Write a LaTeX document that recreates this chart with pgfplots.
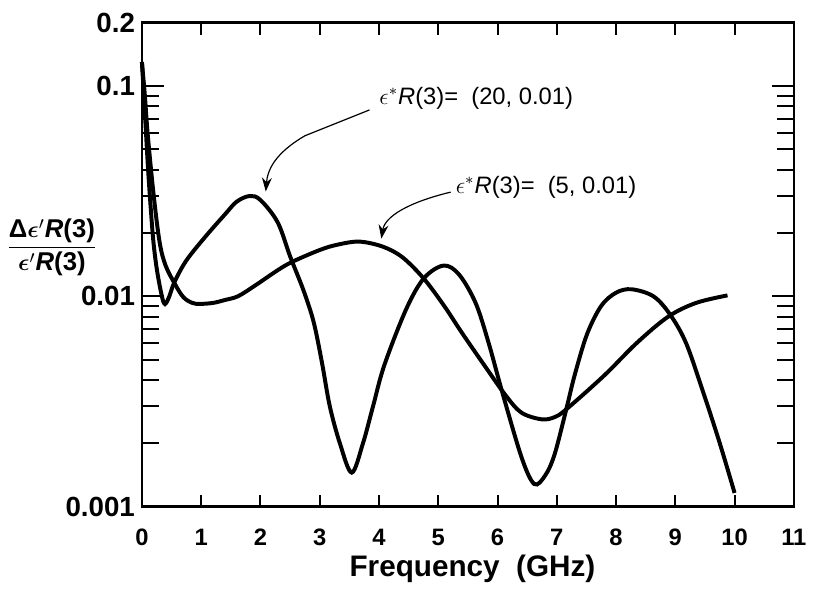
\documentclass[border=0pt]{standalone}
\usepackage{amsmath}
\usepackage{fontspec}
\setmainfont{Liberation Sans}
\usepackage{pgfplots}
\pgfplotsset{compat=1.18}
\usetikzlibrary{arrows.meta,calc}

% epsilon*_R(3) = (20, 0.01)
\pgfplotstableread{
x y
0 0.13
0.05 0.075
0.1 0.042
0.15 0.026
0.2 0.0175
0.27 0.0125
0.37 0.0093
0.45 0.0098
0.55 0.0117
0.75 0.0148
1.07 0.0192
1.4 0.0245
1.6 0.0282
1.82 0.0300
2.0 0.0287
2.29 0.0225
2.5 0.0155
2.73 0.0106
2.9 0.0075
3.04 0.0048
3.17 0.0030
3.34 0.0020
3.54 0.00145
3.73 0.0020
3.9 0.0030
4.09 0.0047
4.46 0.0087
4.76 0.0122
5.09 0.0140
5.35 0.0127
5.63 0.0093
5.85 0.0060
6.08 0.0035
6.41 0.0017
6.62 0.00128
6.8 0.00140
6.96 0.00176
7.16 0.0029
7.3 0.0042
7.51 0.0066
7.75 0.0090
8.0 0.0104
8.26 0.0108
8.63 0.0100
8.91 0.0082
9.18 0.0060
9.47 0.0035
9.75 0.0020
10.0 0.00116
}\twenty

% epsilon*_R(3) = (5, 0.01)
\pgfplotstableread{
x y
0 0.13
0.05 0.09
0.1 0.058
0.2 0.030
0.3 0.018
0.4 0.0140
0.56 0.0114
0.7 0.0099
0.85 0.0093
0.98 0.0092
1.2 0.0093
1.4 0.0096
1.62 0.0100
1.9 0.0112
2.29 0.0133
2.54 0.0146
3.0 0.0166
3.3 0.0176
3.67 0.0182
4.07 0.0172
4.4 0.0153
4.76 0.0121
5.1 0.0090
5.4 0.0067
5.8 0.0046
6.13 0.0034
6.4 0.0028
6.74 0.0026
6.96 0.00266
7.16 0.0029
7.8 0.0042
8.35 0.0060
8.88 0.0080
9.35 0.0093
9.88 0.0101
}\five

\begin{document}
\begin{tikzpicture}
\begin{axis}[
  name=ax,
  scale only axis,
  width=329.5pt, height=244.5pt,
  ymode=log,
  xmin=0, xmax=11, ymin=0.001, ymax=0.2,
  axis line style={line width=1.3pt},
  xtick={0,1,...,11},
  ytick={0.001,0.01,0.1,0.2},
  yticklabels={0.001,0.01,0.1,0.2},
  minor ytick={0.002,0.003,0.004,0.005,0.006,0.007,0.008,0.009,0.02,0.03,0.04,0.05,0.06,0.07,0.08,0.09},
  tick align=inside,
  ticks=both,
  major tick length=11pt,
  minor tick length=8.5pt,
  xtick style={/pgfplots/major tick length=6pt},
  tick style={line width=1pt, black},
  /pgf/number format/assume math mode=true,
  xticklabel style={font=\bfseries\fontsize{12}{14}\selectfont, yshift=-8pt},
  yticklabel style={font=\bfseries\fontsize{14}{16}\selectfont},
  xlabel={Frequency\ \ (GHz)},
  xlabel style={font=\bfseries\fontsize{15}{17}\selectfont, at={(axis description cs:0.507,0)}, anchor=center, yshift=-31.5pt},
  ylabel={\bfseries\fontsize{13}{15}\selectfont
    $\dfrac{\text{\bfseries Δ}\boldsymbol{\epsilon}'\text{\itshape\bfseries R}\text{\bfseries(3)}}{\boldsymbol{\epsilon}'\text{\itshape\bfseries R}\text{\bfseries(3)}}$},
  ylabel style={rotate=-90, anchor=center, at={(axis description cs:-0.138,0.536)}},
  clip=false,
]
\addplot[black, line width=2pt, smooth, tension=0.55] table {\twenty};
\addplot[black, line width=2pt, smooth, tension=0.55] table {\five};

\node[anchor=west, font=\fontsize{12}{14}\selectfont, inner sep=0pt] at (axis cs:4.0,0.0877)
  {$\epsilon^{*}$\textit{R}(3)= \ (20, 0.01)};
\node[anchor=west, font=\fontsize{12}{14}\selectfont, inner sep=0pt] at (axis cs:5.29,0.033)
  {$\epsilon^{*}$\textit{R}(3)= \ (5, 0.01)};
\draw[-{Stealth[length=7pt,width=5pt]}, line width=0.6pt]
  (axis cs:3.84,0.077) -- (axis cs:2.75,0.058) .. controls (axis cs:2.25,0.048) and (axis cs:2.12,0.04) .. (axis cs:2.09,0.0315);
\draw[-{Stealth[length=7pt,width=5pt]}, line width=0.6pt]
  (axis cs:5.21,0.0313) .. controls (axis cs:4.5,0.028) and (axis cs:4.1,0.024) .. (axis cs:4.04,0.0188);
\end{axis}
\path[use as bounding box] ($(ax.south west)+(-71.5pt,-40pt)$) rectangle ($(ax.north east)+(5.5pt,11.5pt)$);
\end{tikzpicture}
\end{document}
